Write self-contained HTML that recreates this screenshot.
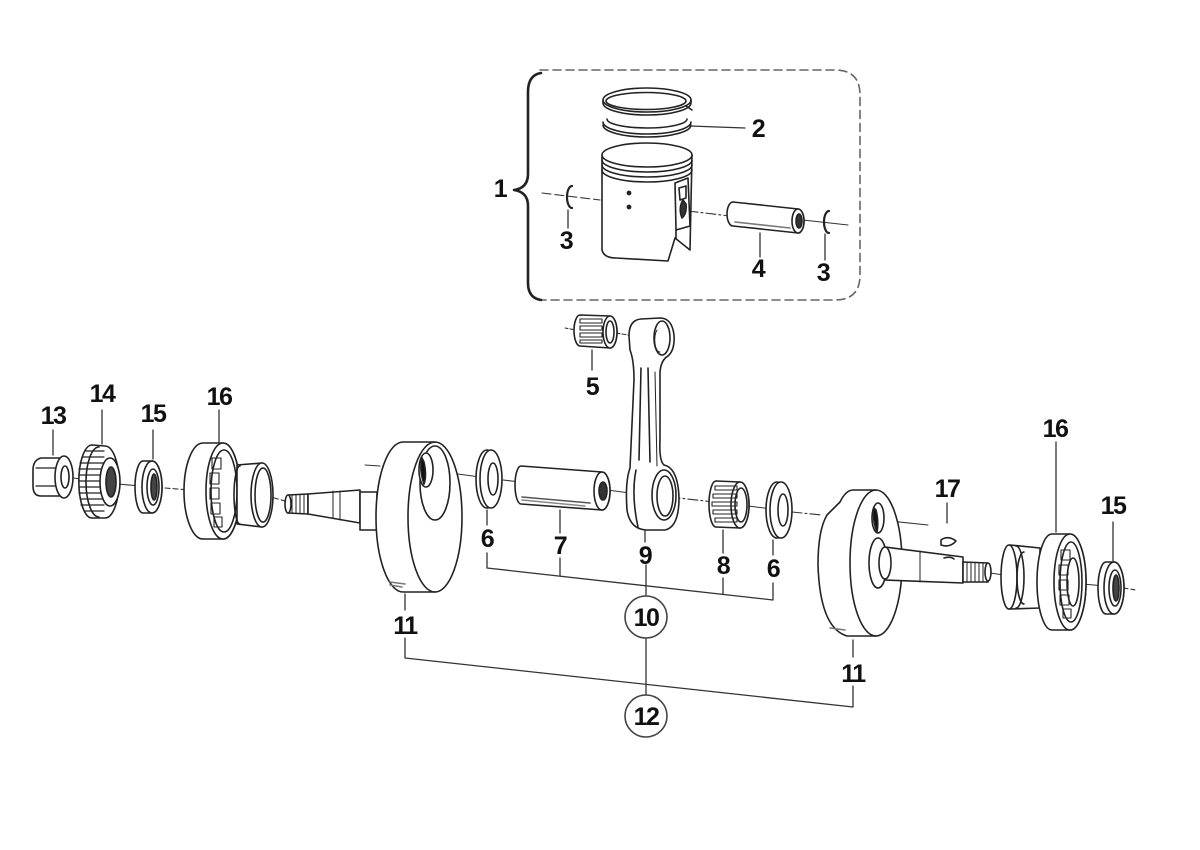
<!DOCTYPE html>
<html><head><meta charset="utf-8"><style>
html,body{margin:0;padding:0;background:#fff;}
svg{display:block;}
text{font-family:"Liberation Sans",Arial,sans-serif;font-weight:bold;font-size:25px;fill:#111;text-anchor:middle;letter-spacing:-1.5px;}
</style></head><body>
<svg width="1200" height="850" viewBox="0 0 1200 850" xmlns="http://www.w3.org/2000/svg">
<rect width="1200" height="850" fill="#fff"/>
<g fill="none" stroke="#222" stroke-width="1.6" stroke-linejoin="round" stroke-linecap="round">

<!-- piston group box -->
<path d="M540 70 L835 70 Q860 70 860 95 L860 275 Q860 300 835 300 L540 300" stroke="#666" stroke-dasharray="8 5"/>
<path d="M541 73 Q528 75 528 92 L528 174 Q528 188 514 190 Q528 192 528 206 L528 283 Q528 298 541 300" stroke-width="2.6"/>

<!-- axis lines -->
<g stroke="#333" stroke-width="1.1">
<path d="M542 193 L600 200" stroke-dasharray="9 4"/>
<path d="M688 211 L730 216" stroke-dasharray="10 3 2 3"/>
<path d="M803 220 L848 225"/>
<path d="M565 328 L576 330" stroke-dasharray="3 2"/>
<path d="M616 333 L628 335" stroke-dasharray="4 2"/>
<path d="M73 478 L90 480"/>
<path d="M118 484 L140 486"/>
<path d="M165 488 L190 490" stroke-dasharray="5 3"/>
<path d="M260 494 L292 503" stroke-dasharray="8 3"/>
<path d="M365 465 L380 466"/>
<path d="M428 470 L480 477"/>
<path d="M503 480 L520 482"/>
<path d="M607 490 L630 493"/>
<path d="M670 497 L714 502" stroke-dasharray="10 3 2 3"/>
<path d="M748 506 L772 509"/>
<path d="M792 512 L822 515" stroke-dasharray="10 3 2 3"/>
<path d="M880 520 L928 525"/>
<path d="M990 573 L1004 575"/>
<path d="M1060 582 L1105 586"/>
<path d="M1124 588 L1136 590" stroke-dasharray="4 3"/>
</g>

<!-- piston rings -->
<path d="M603 122 A44 12 0 0 0 691 122"/>
<path d="M603 125 A44 12 0 0 0 691 125"/>
<path d="M607 119 A40 9 0 0 0 687 119"/>
<ellipse cx="647" cy="100" rx="44" ry="12" fill="#fff"/>
<path d="M603 100 L603 103 A44 12 0 0 0 691 103 L691 100"/>
<ellipse cx="646" cy="101" rx="40" ry="8.5"/>
<path d="M686 106 L692 110"/>

<!-- piston -->
<path d="M602 155 L602 250 Q604 258 616 258 L668 261 L675 238 L690 250 L692 155 Z" fill="#fff"/>
<ellipse cx="647" cy="155" rx="45" ry="12" fill="#fff"/>
<path d="M602 160 A45 12 0 0 0 692 160"/>
<path d="M602 165 A45 12 0 0 0 692 165"/>
<path d="M602 170 A45 12 0 0 0 692 170"/>
<path d="M675 183 L688 178 L690 226 L676 230 Z"/>
<path d="M679 188 L686 186 L686 198 L680 200 Z"/>
<path d="M683 200 Q678 208 682 218 Q687 214 686 204 Z" fill="#333"/>
<path d="M676 238 L676 230"/>
<circle cx="629" cy="193" r="1.6" fill="#222"/>
<circle cx="629" cy="207" r="1.6" fill="#222"/>

<!-- circlips -->
<path d="M572 186 A5 11 0 1 0 572 208" stroke-width="2.2"/>
<path d="M829 211 A5 11 0 1 0 829 233" stroke-width="2.2"/>

<!-- piston pin 4 -->
<path d="M733 202 L798 209 A6 12 0 0 1 798 233 L733 226 A6 12 0 0 1 733 202 Z" fill="#fff"/>
<ellipse cx="798" cy="221" rx="6" ry="12" fill="#fff"/>
<ellipse cx="799" cy="221" rx="3" ry="7" fill="#333"/>
<path d="M735 222 L790 228" stroke="#777"/>

<!-- small end bearing 5 -->
<path d="M580 315 L610 316 A7 16 0 0 1 610 348 L580 346 A6 15.5 0 0 1 580 315 Z" fill="#fff"/>
<ellipse cx="610" cy="332" rx="7" ry="16" fill="#fff"/>
<ellipse cx="610" cy="332" rx="4" ry="11"/>
<g stroke-width="1.1">
<rect x="580" y="319" width="22" height="4"/>
<rect x="580" y="326" width="22" height="4"/>
<rect x="580" y="333" width="22" height="4"/>
<rect x="580" y="340" width="22" height="3"/>
</g>

<!-- connecting rod 9 -->
<path d="M641 319 Q629 320 629 336 L630 350 Q634 360 634 380 L630 468 Q625 482 627 510 Q630 529 646 530 L665 530 Q679 527 679 498 Q678 468 664 465 Q659 461 660 440 L660 372 Q661 360 668 356 Q675 350 674 335 Q672 318 660 318 Z" fill="#fff"/>
<ellipse cx="662" cy="338" rx="8" ry="17" fill="#fff"/>
<path d="M657 330 A5 12 0 0 0 660 352" stroke-width="1"/>
<path d="M641 368 L639 460"/>
<path d="M648 368 L650 462"/>
<path d="M655 372 L657 466" stroke-width="1"/>
<ellipse cx="664" cy="495" rx="12" ry="25" fill="#fff"/>
<ellipse cx="665" cy="496" rx="8" ry="20"/>
<path d="M636 470 Q631 495 638 527"/>

<!-- big end bearing 8 -->
<path d="M716 481 L740 482 A9 23 0 0 1 740 528 L716 527 A7 23 0 0 1 716 481 Z" fill="#fff"/>
<ellipse cx="740" cy="505" rx="9" ry="23" fill="#fff"/>
<ellipse cx="741" cy="505" rx="6" ry="17"/>
<g stroke-width="1.1">
<rect x="715" y="486" width="22" height="4"/>
<rect x="713" y="494" width="24" height="4"/>
<rect x="712" y="502" width="25" height="4"/>
<rect x="713" y="510" width="24" height="4"/>
<rect x="715" y="518" width="22" height="4"/>
</g>

<!-- washers 6 -->
<ellipse cx="487" cy="479" rx="11" ry="29" fill="#fff"/>
<ellipse cx="491" cy="479" rx="11" ry="29" fill="#fff"/>
<ellipse cx="493" cy="479" rx="5" ry="16" fill="#fff"/>
<ellipse cx="777" cy="510" rx="11" ry="28" fill="#fff"/>
<ellipse cx="781" cy="510" rx="11" ry="28" fill="#fff"/>
<ellipse cx="783" cy="510" rx="5" ry="16" fill="#fff"/>

<!-- crank pin 7 -->
<path d="M521 466 L602 472 A8 19 0 0 1 602 510 L521 504 A6 19 0 0 1 521 466 Z" fill="#fff"/>
<ellipse cx="602" cy="491" rx="8" ry="19" fill="#fff"/>
<ellipse cx="603" cy="491" rx="4" ry="9" fill="#333"/>
<path d="M522 497 L590 503" stroke="#555"/>
<path d="M522 500 L585 506" stroke="#888"/>

<!-- left crank web + shaft -->
<path d="M288 495 L308 494 L308 514 L288 513 Z" fill="#fff"/>
<ellipse cx="288" cy="504" rx="3" ry="9" fill="#fff"/>
<g stroke-width="1">
<path d="M292 495 L292 513 M296 495 L296 513 M300 494 L300 514 M304 494 L304 514"/>
</g>
<path d="M308 494 L360 490 L360 523 L308 514 Z" fill="#fff"/>
<path d="M333 491 L333 518 M340 491 L340 520" stroke-width="1"/>
<path d="M360 492 L377 492 L377 530 L360 530 Z" fill="#fff"/>
<path d="M403 442 L435 442 A27 75 0 0 1 435 592 L403 592 A27 75 0 0 1 403 442 Z" fill="#fff"/>
<path d="M435 442 A27 75 0 0 0 435 592"/>
<ellipse cx="435" cy="483" rx="15" ry="37"/>
<ellipse cx="426" cy="470" rx="7" ry="17" fill="#fff"/>
<path d="M422 458 Q419 470 424 484 Q427 476 424 462 Z" fill="#111"/>
<path d="M390 582 L405 584 M390 585 L402 587" stroke="#777"/>

<!-- right crank web + shaft -->
<path d="M853 490 L876 490 A26 73 0 0 1 876 636 L847 636 Q820 628 818 565 Q818 530 827 515 Q834 508 840 502 Q846 490 853 490 Z" fill="#fff"/>
<path d="M876 490 A26 73 0 0 0 876 636"/>
<ellipse cx="878" cy="518" rx="6" ry="15" fill="#fff"/>
<path d="M874 508 Q872 520 877 532 Q879 522 876 510 Z" fill="#111"/>
<path d="M830 628 L845 630" stroke="#777"/>
<ellipse cx="878" cy="563" rx="9" ry="25" fill="#fff"/>
<path d="M885 547 L963 557 L963 583 L885 580 Z" fill="#fff"/>
<ellipse cx="885" cy="563" rx="6" ry="16" fill="#fff"/>
<path d="M920 551 L920 582" stroke-width="1"/>
<path d="M944 558 Q950 556 954 559" stroke-width="1.6"/>
<path d="M963 562 L988 563 L988 582 L963 582 Z" fill="#fff"/>
<ellipse cx="988" cy="572" rx="3" ry="9" fill="#fff"/>
<path d="M967 563 L967 582 M971 563 L971 582 M975 563 L975 582 M979 563 L979 582 M983 563 L983 582" stroke-width="1"/>

<!-- key 17 -->
<path d="M941 540 Q948 535 956 541 Q950 548 941 545 Z" fill="#fff"/>

<!-- right sleeve -->
<path d="M1010 545 L1040 548 L1040 608 L1010 609 Z" fill="#fff"/>
<ellipse cx="1009" cy="577" rx="8" ry="32" fill="#fff"/>
<path d="M1016 546 A8 31 0 0 1 1016 608"/>
<path d="M1024 552 A7 26 0 0 0 1024 604"/>

<!-- right bearing 16 -->
<path d="M1052 534 L1070 534 A16 48 0 0 1 1070 630 L1052 630 A15 48 0 0 1 1052 534 Z" fill="#fff"/>
<ellipse cx="1070" cy="582" rx="16" ry="48" fill="#fff"/>
<ellipse cx="1071" cy="582" rx="11" ry="40"/>
<ellipse cx="1073" cy="582" rx="6" ry="24"/>
<g stroke-width="1.1">
<rect x="1061" y="550" width="9" height="10"/>
<rect x="1059" y="565" width="9" height="10"/>
<rect x="1059" y="580" width="9" height="10"/>
<rect x="1060" y="595" width="9" height="10"/>
<rect x="1063" y="609" width="8" height="9"/>
</g>

<!-- right seal 15 -->
<path d="M1106 562 L1114 562 A10 26 0 0 1 1114 614 L1106 614 A8 26 0 0 1 1106 562 Z" fill="#fff"/>
<ellipse cx="1114" cy="588" rx="10" ry="26" fill="#fff"/>
<ellipse cx="1115" cy="588" rx="6" ry="18" fill="#fff"/>
<ellipse cx="1116" cy="588" rx="3" ry="13" fill="#444"/>

<!-- left bearing 16 -->
<path d="M203 443 L223 443 A17 48 0 0 1 223 539 L203 539 A19 48 0 0 1 203 443 Z" fill="#fff"/>
<ellipse cx="223" cy="491" rx="17" ry="48" fill="#fff"/>
<ellipse cx="224" cy="491" rx="13" ry="41"/>
<g stroke-width="1.1">
<rect x="212" y="458" width="9" height="11"/>
<rect x="210" y="473" width="9" height="11"/>
<rect x="210" y="488" width="9" height="11"/>
<rect x="211" y="503" width="9" height="11"/>
<rect x="214" y="517" width="8" height="10"/>
</g>
<path d="M237 465 L262 463 L262 527 L237 524 Z" fill="#fff"/>
<path d="M240 466 A6 29 0 0 0 240 524"/>
<ellipse cx="262" cy="495" rx="11" ry="32" fill="#fff"/>
<ellipse cx="263" cy="495" rx="8" ry="27"/>

<!-- left seal 15 -->
<path d="M143 461 L152 461 A10 26 0 0 1 152 513 L143 513 A8 26 0 0 1 143 461 Z" fill="#fff"/>
<ellipse cx="152" cy="487" rx="10" ry="26" fill="#fff"/>
<ellipse cx="153" cy="487" rx="6" ry="18" fill="#fff"/>
<ellipse cx="154" cy="487" rx="3" ry="13" fill="#444"/>

<!-- gear 14 -->
<path d="M92 445 L105 446 A14 36 0 0 1 105 518 L92 518 A13 36 0 0 1 92 445 Z" fill="#fff"/>
<g stroke-width="1.2">
<path d="M86 451 L104 451 M82 457 L104 457 M80 463 L103 463 M79 469 L102 469 M79 475 L102 475 M79 481 L102 481 M79 487 L102 487 M79 493 L102 493 M80 499 L103 499 M81 505 L104 505 M84 511 L104 511"/>
</g>
<path d="M99 447 A13 35 0 0 0 99 517"/>
<ellipse cx="110" cy="482" rx="10" ry="24" fill="#fff"/>
<ellipse cx="111" cy="482" rx="5" ry="15" fill="#444"/>

<!-- nut 13 -->
<path d="M60 458 L41 458 Q33 460 33 470 L33 486 Q33 496 41 496 L60 496 Z" fill="#fff"/>
<path d="M36 468 L58 468 M36 486 L58 486" stroke-width="1.2"/>
<ellipse cx="64" cy="477" rx="9" ry="21" fill="#fff"/>
<ellipse cx="65" cy="477" rx="4" ry="11"/>

<!-- leader lines -->
<g stroke="#333" stroke-width="1.3">
<path d="M690 126 L745 128"/>
<path d="M568 210 L568 228"/>
<path d="M760 233 L760 257"/>
<path d="M825 234 L825 260"/>
<path d="M592 350 L592 370"/>
<path d="M53 430 L53 455"/>
<path d="M102 410 L102 444"/>
<path d="M153 430 L153 459"/>
<path d="M219 410 L219 443"/>
<path d="M1056 442 L1056 532"/>
<path d="M947 503 L947 523"/>
<path d="M1113 522 L1113 562"/>
<path d="M487 510 L487 525"/>
<path d="M560 510 L560 533"/>
<path d="M645 531 L645 542"/>
<path d="M723 530 L723 553"/>
<path d="M773 540 L773 555"/>
<path d="M487 553 L487 568 L773 600 L773 583"/>
<path d="M560 558 L560 576"/>
<path d="M723 578 L723 594"/>
<path d="M646 565 L646 596"/>
<path d="M646 638 L646 695"/>
<path d="M405 638 L405 658 L853 707 L853 686"/>
<path d="M405 594 L405 610"/>
<path d="M853 640 L853 657"/>
</g>
<circle cx="646" cy="617" r="21" fill="#fff" stroke="#444"/>
<circle cx="646" cy="716" r="21" fill="#fff" stroke="#444"/>
</g>

<!-- labels -->
<text x="500" y="197">1</text>
<text x="758" y="137">2</text>
<text x="566" y="249">3</text>
<text x="758" y="277">4</text>
<text x="823" y="281">3</text>
<text x="592" y="395">5</text>
<text x="53" y="424">13</text>
<text x="102" y="402">14</text>
<text x="153" y="422">15</text>
<text x="219" y="405">16</text>
<text x="1055" y="437">16</text>
<text x="947" y="497">17</text>
<text x="1113" y="514">15</text>
<text x="487" y="547">6</text>
<text x="560" y="554">7</text>
<text x="645" y="564">9</text>
<text x="723" y="574">8</text>
<text x="773" y="577">6</text>
<text x="646" y="626">10</text>
<text x="405" y="634">11</text>
<text x="853" y="682">11</text>
<text x="646" y="725">12</text>
</svg>
</body></html>
